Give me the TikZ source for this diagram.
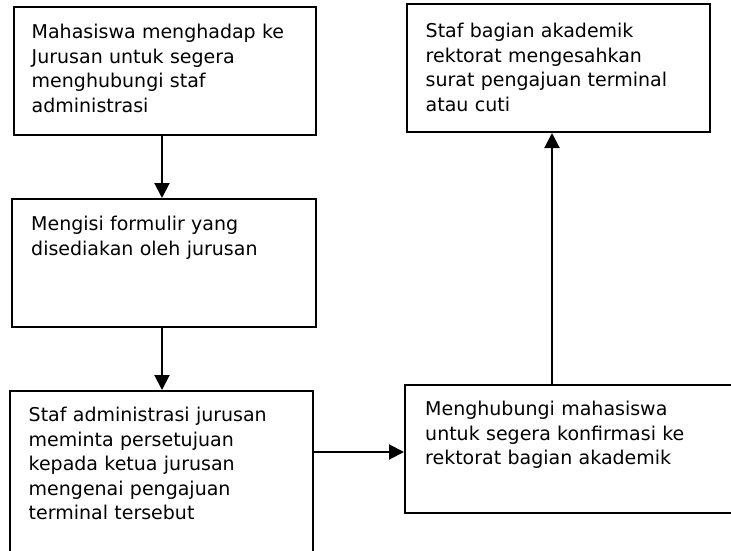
\documentclass[tikz,border=0pt]{standalone}
\usepackage{fontspec}
\setmainfont{DejaVu Sans}
\usetikzlibrary{arrows.meta}
\begin{document}
\begin{tikzpicture}[x=1pt,y=-1pt,
  boxst/.style={draw,line width=2pt,rectangle,inner sep=0pt},
  txt/.style={anchor=base west,inner sep=0pt,align=left,text width=300pt,
    font=\fontsize{19}{24.5}\selectfont},
  arr/.style={line width=2pt,-{Triangle[length=15pt,width=15pt]}}]
\useasboundingbox (0,0) rectangle (731,550);
\node[boxst,minimum width=302pt,minimum height=128pt] (b1) at (165,71) {};
\node[boxst,minimum width=304pt,minimum height=128pt] (b2) at (164,263) {};
\node[boxst,minimum width=303pt,minimum height=166pt] (b3) at (161.5,474) {};
\node[boxst,minimum width=330pt,minimum height=128pt] (b4) at (570,449) {};
\node[boxst,minimum width=303pt,minimum height=128pt] (b5) at (558.5,68) {};
\node[txt] (t1) at (31.5,38.5) {Mahasiswa menghadap ke\\Jurusan untuk segera\\menghubungi staf\\administrasi};
\node[txt] (t2) at (31,230.5) {Mengisi formulir yang\\disediakan oleh jurusan};
\node[txt] (t3) at (28.5,421.5) {Staf administrasi jurusan\\meminta persetujuan\\kepada ketua jurusan\\mengenai pengajuan\\terminal tersebut};
\node[txt] (t4) at (425,415.5) {Menghubungi mahasiswa\\untuk segera konfirmasi ke\\rektorat bagian akademik};
\node[txt] (t5) at (425.5,37.5) {Staf bagian akademik\\rektorat mengesahkan\\surat pengajuan terminal\\atau cuti};
\coordinate (ax) at (162,0);
\coordinate (ay) at (0,452);
\coordinate (az) at (552,0);
\draw[arr] (b1.south -| ax) -- (b2.north -| ax);
\draw[arr] (b2.south -| ax) -- (b3.north -| ax);
\draw[arr] (b3.east |- ay) -- (b4.west |- ay);
\draw[arr] (b4.north -| az) -- (b5.south -| az);
\end{tikzpicture}
\end{document}
